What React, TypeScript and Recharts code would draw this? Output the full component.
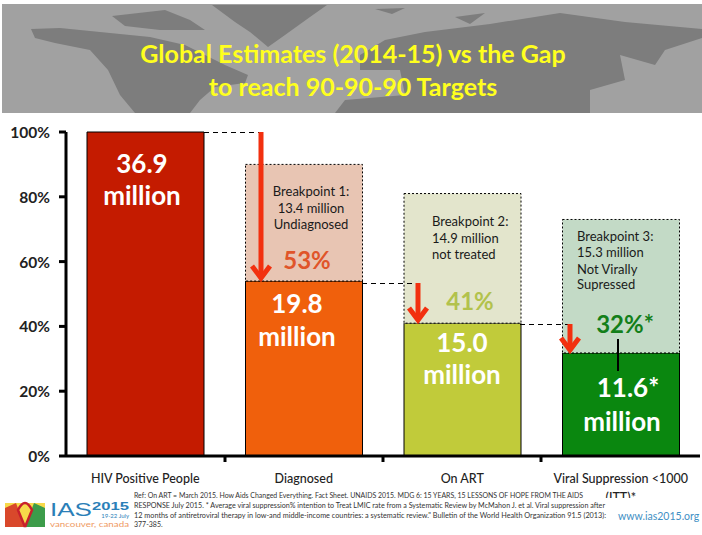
import { Bar, BarChart, Cell, XAxis, YAxis } from "recharts";

const categories = ["HIV Positive People", "Diagnosed", "On ART", "Viral Suppression <1000 (ITT)*"];
const reached = [100, 54, 41, 31.8];
const gap = [0, 36, 40, 41.2];
const yTicks = [0, 20, 40, 60, 80, 100];

const reachedColors = ["#c41b00", "#f0600c", "#c1cb3a", "#0a870f"];
const gapColors = ["#ffffff", "#e8c5b3", "#e3e5cc", "#c3dac6"];

const data = categories.map((name, i) => ({ name, reached: reached[i], gap: gap[i] }));

const FONT = "Lato, 'Open Sans', sans-serif";
const RED = "#f2300f";

function CategoryTick({ x, y, payload }: any) {
  const label: string = payload.value;
  const wrapped = label.length > 22;
  return (
    <text x={x} y={y + 19} textAnchor="middle" fontFamily={FONT} fontSize={12.5} fontWeight={500} fill="#222">
      {wrapped ? (
        <>
          <tspan x={x}>Viral Suppression &lt;1000</tspan>
          <tspan x={x} dy={19}>(ITT)*</tspan>
        </>
      ) : (
        label
      )}
    </text>
  );
}

function PercentTick({ x, y, payload }: any) {
  return (
    <text x={x - 7} y={y + 6} textAnchor="end" fontFamily={FONT} fontSize={15.5} fontWeight={700} fill="#222">
      {payload.value}%
    </text>
  );
}

function Arrow({ x, y1, y2 }: { x: number; y1: number; y2: number }) {
  return (
    <g stroke={RED} fill="none" strokeWidth={5}>
      <line x1={x} y1={y1} x2={x} y2={y2 - 3} />
      <polyline points={`${x - 9},${y2 - 15} ${x},${y2 - 3} ${x + 9},${y2 - 15}`} />
    </g>
  );
}

function Big({ x, y, size = 26, fill = "#fff", children }: any) {
  return (
    <text x={x} y={y} textAnchor="middle" fontFamily={FONT} fontSize={size} fontWeight={700} fill={fill}>
      {children}
    </text>
  );
}

function Note({ x, y, anchor = "start", children }: any) {
  return (
    <text x={x} y={y} textAnchor={anchor} fontFamily={FONT} fontSize={13} fill="#1a1a1a">
      {children}
    </text>
  );
}

function Annotations() {
  return (
    <svg width={702} height={535} style={{ position: "absolute", left: 0, top: 0 }}>
      <g stroke="#000" strokeWidth={3}>
        <line x1={225} y1={456} x2={225} y2={462} />
        <line x1={383} y1={456} x2={383} y2={462} />
        <line x1={541} y1={456} x2={541} y2={462} />
      </g>

      <g stroke="#000" strokeWidth={1} strokeDasharray="5 4">
        <line x1={204} y1={132.5} x2={261} y2={132.5} />
        <line x1={362} y1={283.5} x2={418} y2={283.5} />
        <line x1={520} y1={324.5} x2={570} y2={324.5} />
      </g>
      <line x1={618} y1={339} x2={618} y2={371} stroke="#000" strokeWidth={2} />

      <Arrow x={261} y1={132} y2={281} />
      <Arrow x={418} y1={283} y2={323} />
      <Arrow x={570} y1={324} y2={353} />

      <Big x={142} y={173}>36.9</Big>
      <Big x={142} y={205}>million</Big>
      <Big x={297} y={313}>19.8</Big>
      <Big x={297} y={346}>million</Big>
      <Big x={462} y={352}>15.0</Big>
      <Big x={462} y={384}>million</Big>
      <Big x={628} y={397}>11.6*</Big>
      <Big x={622} y={431}>million</Big>

      <Big x={307} y={269} size={24} fill="#e0552a">53%</Big>
      <Big x={470} y={310} size={24} fill="#b2c24c">41%</Big>
      <Big x={625} y={333} size={24} fill="#137f1a">32%*</Big>

      <Note x={311} y={196} anchor="middle">Breakpoint 1:</Note>
      <Note x={311} y={213} anchor="middle">13.4 million</Note>
      <Note x={311} y={229} anchor="middle">Undiagnosed</Note>
      <Note x={432} y={226}>Breakpoint 2:</Note>
      <Note x={432} y={243}>14.9 million</Note>
      <Note x={432} y={259}>not treated</Note>
      <Note x={577} y={241}>Breakpoint 3:</Note>
      <Note x={577} y={257}>15.3 million</Note>
      <Note x={577} y={274}>Not Virally</Note>
      <Note x={577} y={289}>Supressed</Note>
    </svg>
  );
}

function Banner() {
  return (
    <svg width={702} height={120} style={{ position: "absolute", left: 0, top: 0 }}>
      <rect x={2} y={4} width={700} height={109} fill="#a1a1a1" />
      <g fill="#7d7d7d">
        <polygon points="31,29 60,28 110,33 150,37 185,45 205,55 225,65 248,75 245,83 215,87 200,100 190,113 135,113 120,95 108,70 90,50 55,43 35,38" />
        <polygon points="212,5 327,5 310,17 285,35 268,47 250,32 235,22" />
        <polygon points="112,16 165,10 190,20 205,30 160,30 125,26" />
        <polygon points="360,55 385,40 425,32 490,24 560,13 625,22 702,29 702,38 665,50 655,65 620,55 625,80 590,90 590,113 335,113 345,100 405,95 400,70 360,70" />
        <polygon points="375,9 405,8 392,14" />
        <polygon points="455,17 485,13 470,24" />
      </g>
      <g fontFamily={FONT} fontWeight={700} fill="#ffff1e" textAnchor="middle" fontSize={25}>
        <text x={353} y={63}>Global Estimates (2014-15) vs the Gap</text>
        <text x={353} y={96}>to reach 90-90-90 Targets</text>
      </g>
    </svg>
  );
}

function Footer() {
  const refFont = { fontFamily: FONT, fontSize: 7, fill: "#333" };
  return (
    <svg width={702} height={50} viewBox="0 485 702 50" style={{ position: "absolute", left: 0, top: 485 }}>
      <rect x={0} y={498} width={702} height={40} fill="#fff" />
      <rect x={5} y={503} width={40} height={24} fill="#f7d94a" />
      <polygon points="5,527 5,508 16,503 25,527" fill="#d9482b" />
      <polygon points="45,527 45,508 34,503 25,527" fill="#3c9c4a" />
      <path d="M25,527 L18,510 Q25,496 32,510 L25,527" fill="none" stroke="#c8202c" strokeWidth={2.5} />
      <text x={50} y={516} fontFamily="Liberation Sans, Arial, sans-serif" fontSize={19} fill="#2b7fb8" textLength={42} lengthAdjust="spacingAndGlyphs">IAS</text>
      <text x={92} y={510} fontFamily="Liberation Sans, Arial, sans-serif" fontSize={10} fontWeight={700} fill="#2b7fb8" textLength={37} lengthAdjust="spacingAndGlyphs">2015</text>
      <text x={129} y={518} textAnchor="end" fontFamily={FONT} fontSize={6} fill="#2b7fb8">19-22 July</text>
      <text x={50} y={527} fontFamily={FONT} fontSize={8} fill="#ef9a63" textLength={79} lengthAdjust="spacingAndGlyphs">vancouver, canada</text>
      <text x={134} y={498} {...refFont} textLength={449} lengthAdjust="spacingAndGlyphs">Ref: On ART = March 2015. How Aids Changed Everything. Fact Sheet. UNAIDS 2015. MDG 6: 15 YEARS, 15 LESSONS OF HOPE FROM THE AIDS</text>
      <text x={134} y={508} {...refFont} textLength={471} lengthAdjust="spacingAndGlyphs">RESPONSE July 2015. * Average viral suppression% intention to Treat LMIC rate from a Systematic Review by McMahon J. et al. Viral suppression after</text>
      <text x={134} y={518} {...refFont} textLength={472} lengthAdjust="spacingAndGlyphs">12 months of antiretroviral therapy in low-and middle-income countries: a systematic review." Bulletin of the World Health Organization 91.5 (2013):</text>
      <text x={134} y={527} {...refFont}>377-385.</text>
      <text x={618} y={520} fontFamily={FONT} fontSize={10.5} fill="#3f8fc4">www.ias2015.org</text>
    </svg>
  );
}

export default function App() {
  return (
    <div style={{ position: "absolute", left: 0, top: 0, width: 702, height: 535, background: "#fff", overflow: "hidden" }}>
      <BarChart
        width={702}
        height={535}
        data={data}
        margin={{ top: 132, right: 2, bottom: 0, left: 0 }}
        barCategoryGap={0}
        style={{ position: "absolute", left: 0, top: 0 }}
      >
        <XAxis
          dataKey="name"
          height={79}
          interval={0}
          axisLine={{ stroke: "#000", strokeWidth: 3 }}
          tickLine={false}
          tick={<CategoryTick />}
        />
        <YAxis
          domain={[0, 100]}
          ticks={yTicks}
          width={66}
          axisLine={{ stroke: "#000", strokeWidth: 3 }}
          tickLine={{ stroke: "#000", strokeWidth: 3 }}
          tickSize={7}
          tick={<PercentTick />}
        />
        <Bar dataKey="reached" stackId="a" barSize={117} stroke="#000" strokeWidth={1} isAnimationActive={false}>
          {reachedColors.map((c) => (
            <Cell key={c} fill={c} />
          ))}
        </Bar>
        <Bar dataKey="gap" stackId="a" barSize={117} stroke="#000" strokeWidth={1} strokeDasharray="2 2" isAnimationActive={false}>
          {gapColors.map((c) => (
            <Cell key={c} fill={c} />
          ))}
        </Bar>
      </BarChart>
      <Annotations />
      <Banner />
      <Footer />
    </div>
  );
}
